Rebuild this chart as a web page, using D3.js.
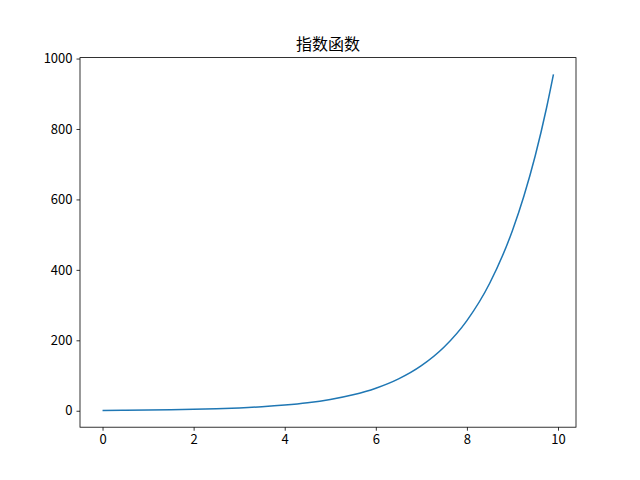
<!DOCTYPE html>
<html>
<head>
<meta charset="utf-8">
<script src="https://cdn.jsdelivr.net/npm/d3@7"></script>
<style>
  body { margin: 0; background: #fff; }
  svg text { font-family: "Noto Sans CJK SC", "DejaVu Sans", sans-serif; }
</style>
</head>
<body>
<svg id="chart" width="640" height="480"></svg>
<script>
// values
const xValues = [0, 0.5, 1, 1.5, 2, 2.5, 3, 3.5, 4, 4.5, 5, 5.5, 6, 6.5, 7, 7.5, 8, 8.5, 9, 9.25, 9.5, 9.75, 9.9];
const yValues = [1, 1.4, 2, 2.8, 4, 5.7, 8, 11.3, 16, 22.6, 32, 45.3, 64, 90.5, 128, 181, 256, 362, 512, 609, 724, 861, 955];
const xTicks = [0, 2, 4, 6, 8, 10];
const yTicks = [0, 200, 400, 600, 800, 1000];
const title = "指数函数";

const svg = d3.select("#chart");
const margin = { top: 57.6, right: 64, bottom: 52.8, left: 80 };
const width = 640, height = 480;

// matplotlib style 5% padding on both axes
const xPad = (d3.max(xValues) - d3.min(xValues)) * 0.05;
const yPad = (d3.max(yValues) - d3.min(yValues)) * 0.05;

const xScale = d3.scaleLinear()
  .domain([d3.min(xValues) - xPad, d3.max(xValues) + xPad])
  .range([margin.left, width - margin.right]);

const yScale = d3.scaleLinear()
  .domain([d3.min(yValues) - yPad, d3.max(yValues) + yPad])
  .range([height - margin.bottom, margin.top]);

// axes
const xAxis = d3.axisBottom(xScale).tickValues(xTicks).tickFormat(d3.format("d")).tickSize(3.5).tickPadding(4);
const yAxis = d3.axisLeft(yScale).tickValues(yTicks).tickFormat(d3.format("d")).tickSize(3.5).tickPadding(4);

const gx = svg.append("g")
  .attr("transform", `translate(0,${height - margin.bottom})`)
  .call(xAxis);
const gy = svg.append("g")
  .attr("transform", `translate(${margin.left},0)`)
  .call(yAxis);

[gx, gy].forEach((g) => {
  g.select(".domain").remove();
  g.selectAll(".tick line").attr("stroke", "#000").attr("stroke-width", 0.8);
  g.selectAll(".tick text").attr("fill", "#000").style("font-size", "13px");
});

// frame
svg.append("rect")
  .attr("x", margin.left)
  .attr("y", margin.top)
  .attr("width", width - margin.left - margin.right)
  .attr("height", height - margin.top - margin.bottom)
  .attr("fill", "none")
  .attr("stroke", "#000")
  .attr("stroke-width", 0.8);

// line
const line = d3.line()
  .x((d, i) => xScale(xValues[i]))
  .y((d) => yScale(d))
  .curve(d3.curveMonotoneX);

svg.append("path")
  .datum(yValues)
  .attr("d", line)
  .attr("fill", "none")
  .attr("stroke", "#1f77b4")
  .attr("stroke-width", 1.5);

// title
svg.append("text")
  .attr("x", (margin.left + width - margin.right) / 2)
  .attr("y", margin.top - 8)
  .attr("text-anchor", "middle")
  .style("font-size", "16px")
  .attr("fill", "#000")
  .text(title);
</script>
</body>
</html>
